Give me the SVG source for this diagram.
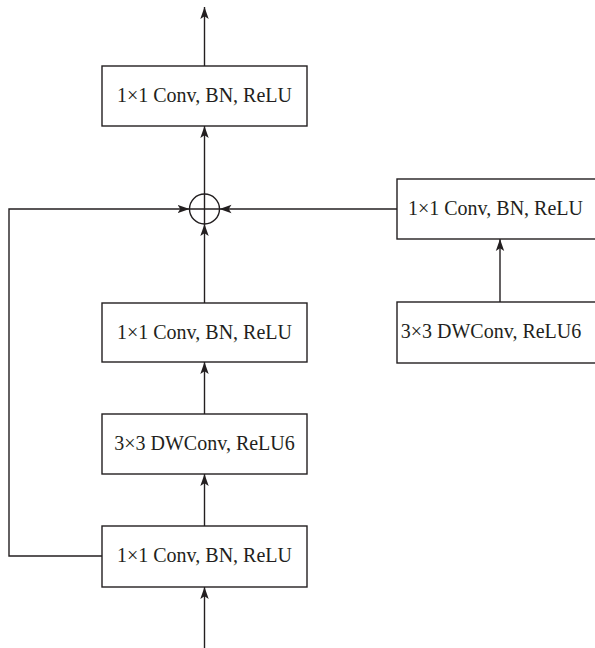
<svg xmlns="http://www.w3.org/2000/svg" width="595" height="648" viewBox="0 0 595 648">
  <defs>
    <style>
      .box { fill: #ffffff; stroke: #231f20; stroke-width: 1.4; }
      .lbl { font-family: "Liberation Serif", "Times New Roman", serif; font-size: 20px; fill: #231f20; text-anchor: middle; }
      .conn { fill: none; stroke: #231f20; stroke-width: 1.4; }
      .sum { fill: none; stroke: #231f20; stroke-width: 1.4; }
    </style>
    <marker id="arr" markerUnits="userSpaceOnUse" markerWidth="13" markerHeight="10" viewBox="0 0 13 10" refX="12" refY="5" orient="auto">
      <path d="M0,0.8 L12,5 L0,9.2 L2.8,5 Z" fill="#231f20"/>
    </marker>
  </defs>
  <rect width="595" height="648" fill="#ffffff"/>

  <g id="connectors">
    <path class="conn" d="M204.5,66 V7" marker-end="url(#arr)"/>
    <path class="conn" d="M204.5,194 V126" marker-end="url(#arr)"/>
    <path class="conn" d="M204.5,303 V224" marker-end="url(#arr)"/>
    <path class="conn" d="M204.5,414 V362" marker-end="url(#arr)"/>
    <path class="conn" d="M204.5,526 V474" marker-end="url(#arr)"/>
    <path class="conn" d="M204.5,648 V587" marker-end="url(#arr)"/>
    <path class="conn" d="M102,556 H9 V209 H189.5" marker-end="url(#arr)"/>
    <path class="conn" d="M397,209 H219.5" marker-end="url(#arr)"/>
    <path class="conn" d="M500,302 V239" marker-end="url(#arr)"/>
  </g>

  <g id="sum">
    <circle class="sum" cx="204.5" cy="209" r="15"/>
    <path class="sum" d="M189.5,209 H219.5 M204.5,194 V224"/>
  </g>

  <g id="top-conv">
    <rect class="box" x="102" y="66" width="205" height="60"/>
    <text class="lbl" x="204.5" y="102">1×1 Conv, BN, ReLU</text>
  </g>

  <g id="mid-conv">
    <rect class="box" x="102" y="303" width="205" height="59"/>
    <text class="lbl" x="204.5" y="338.5">1×1 Conv, BN, ReLU</text>
  </g>

  <g id="mid-dwconv">
    <rect class="box" x="102" y="414" width="205" height="60"/>
    <text class="lbl" x="204.5" y="450">3×3 DWConv, ReLU6</text>
  </g>

  <g id="bottom-conv">
    <rect class="box" x="102" y="526" width="205" height="61"/>
    <text class="lbl" x="204.5" y="562">1×1 Conv, BN, ReLU</text>
  </g>

  <g id="right-conv">
    <rect class="box" x="397" y="179" width="210" height="60"/>
    <text class="lbl" x="495.5" y="215">1×1 Conv, BN, ReLU</text>
  </g>

  <g id="right-dwconv">
    <rect class="box" x="397" y="302" width="210" height="61"/>
    <text class="lbl" x="491" y="338">3×3 DWConv, ReLU6</text>
  </g>
</svg>
